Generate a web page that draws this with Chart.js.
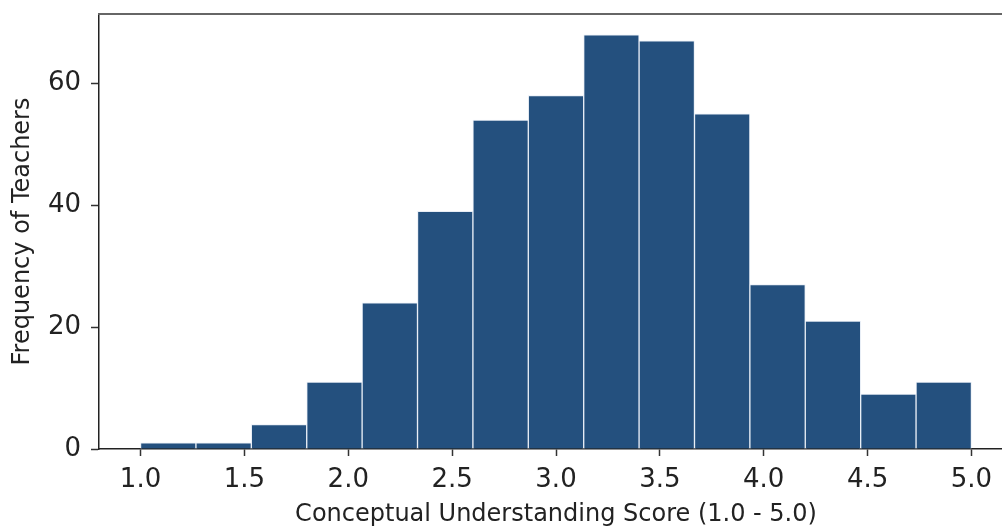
<!DOCTYPE html>
<html lang="en">
<head>
  <meta charset="UTF-8" />
  <title>Conceptual Understanding Histogram</title>
  <script src="https://cdn.jsdelivr.net/npm/chart.js"></script>
  <style>
    body {
      margin: 0;
      padding: 0;
      background-color: #ffffff;
      overflow: hidden;
    }

    /* the original figure is cut off on the right, so the canvas is a bit wider than the window */
    .wrap {
      width: 1002px;
      height: 527px;
      overflow: hidden;
    }
  </style>
</head>
<body>
  <div class="wrap">
    <canvas id="histChart" width="1013" height="527"></canvas>
  </div>

  <script>
    // histogram bins: 15 equal bins from 1.0 to 5.0
    const binStart = 1.0;
    const binEnd = 5.0;
    const binCount = 15;
    const frequencies = [1, 1, 4, 11, 24, 39, 54, 58, 68, 67, 55, 27, 21, 9, 11];
    const xTicks = [1.0, 1.5, 2.0, 2.5, 3.0, 3.5, 4.0, 4.5, 5.0];
    const yTicks = [0, 20, 40, 60];

    const binWidth = (binEnd - binStart) / binCount;
    const points = frequencies.map((f, i) => ({ x: binStart + binWidth * (i + 0.5), y: f }));

    const font = "'DejaVu Sans', sans-serif";

    // matplotlib-like frame on top
    const topFrame = {
      id: "topFrame",
      afterDraw(chart) {
        const { ctx, chartArea } = chart;
        ctx.save();
        ctx.strokeStyle = "#666666";
        ctx.lineWidth = 2;
        ctx.beginPath();
        ctx.moveTo(chartArea.left - 1, chartArea.top);
        ctx.lineTo(chartArea.right, chartArea.top);
        ctx.stroke();
        ctx.restore();
      }
    };

    new Chart(document.getElementById("histChart").getContext("2d"), {
      type: "bar",
      data: {
        datasets: [{
          data: points,
          backgroundColor: "#24507e",
          borderColor: "#e8eef6",
          borderWidth: 1,
          borderSkipped: "bottom",
          barPercentage: 1,
          categoryPercentage: 1
        }]
      },
      options: {
        responsive: false,
        animation: false,
        layout: { padding: { top: 14, right: 0, left: 0, bottom: 0 } },
        plugins: {
          legend: { display: false },
          tooltip: { enabled: false }
        },
        scales: {
          x: {
            type: "linear",
            offset: false,
            min: 0.8,
            max: 5.2,
            afterBuildTicks: (axis) => { axis.ticks = xTicks.map(v => ({ value: v })); },
            afterFit: (axis) => {
              axis.height = 78;
              axis.paddingLeft = 0;
              axis.paddingRight = 0;
            },
            grid: {
              display: true,
              offset: false,
              drawOnChartArea: false,
              drawTicks: true,
              tickLength: 7,
              tickWidth: 1.5,
              color: "#333333"
            },
            border: { display: true, color: "#222222", width: 1.5 },
            ticks: {
              color: "#222222",
              font: { family: font, size: 26 },
              padding: 9,
              maxRotation: 0,
              callback: (v) => v.toFixed(1)
            },
            title: {
              display: true,
              text: "Conceptual Understanding Score (1.0 - 5.0)",
              color: "#222222",
              font: { family: font, size: 24, lineHeight: 1.0 },
              padding: { top: 0, bottom: 0 }
            }
          },
          y: {
            min: 0,
            max: 71.4,
            afterBuildTicks: (axis) => { axis.ticks = yTicks.map(v => ({ value: v })); },
            afterFit: (axis) => {
              axis.width = 99;
              axis.paddingTop = 0;
              axis.paddingBottom = 0;
            },
            grid: {
              display: true,
              drawOnChartArea: false,
              drawTicks: true,
              tickLength: 8,
              tickWidth: 1.5,
              color: "#333333"
            },
            border: { display: true, color: "#222222", width: 1.5 },
            ticks: {
              color: "#222222",
              font: { family: font, size: 26 },
              padding: 10
            },
            title: {
              display: true,
              text: "Frequency of Teachers",
              color: "#222222",
              font: { family: font, size: 24 },
              padding: { top: 8, bottom: 0 }
            }
          }
        }
      },
      plugins: [topFrame]
    });
  </script>
</body>
</html>
